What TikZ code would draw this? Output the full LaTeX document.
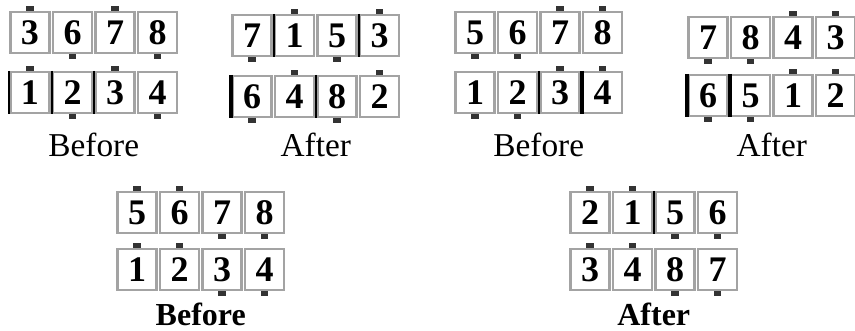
\documentclass[tikz,border=0pt]{standalone}
\usepackage{fontspec}
\setmainfont{Liberation Serif}
\usetikzlibrary{positioning}
\definecolor{cardedge}{gray}{0.64}
\definecolor{tabgray}{gray}{0.2}
\tikzset{
  card/.style={draw=cardedge, line width=1.8pt, fill=white, minimum width=29.5pt, minimum height=30.5pt, inner sep=0pt, font=\fontsize{27}{27}\selectfont\bfseries},
  tab/.style={fill=tabgray, minimum width=5.5pt, minimum height=4pt, inner sep=0pt},
  tab north/.style={yshift=1.8pt},
  tab south/.style={yshift=-1.8pt},
  leftbar/.style={black, line cap=butt},
  caption/.style={font=\fontsize{25}{25}\selectfont, anchor=base},
  boldcaption/.style={font=\fontsize{24}{24}\selectfont\bfseries, anchor=base}
}
% one row of cards: group, row, left x, top y, list of digit/tab side/bar
\newcommand\cardrow[5]{%
  \foreach \d/\t/\b [count=\i] in {#5}{
    \node[card] (#1-#2-\i) at ({#3+20+(\i-1)*42.5},{#4+20.5}) {\d};
    \node[tab, tab \t] (#1-#2-\i-tab) at (#1-#2-\i.\t) {};
    \ifnum\b>0 \draw[leftbar, line width=\b*1.6pt] (#1-#2-\i.north west) -- (#1-#2-\i.south west);\fi
  }}
\begin{document}
\begin{tikzpicture}[x=0.75pt,y=-0.75pt]
\useasboundingbox (0,0) rectangle (855,331);
% top row: before / after, twice
\cardrow{b1}{1}{10}{12}{3/north/0,6/south/0,7/north/0,8/south/0}
\cardrow{b1}{2}{10}{72}{1/north/1,2/south/1,3/north/1,4/south/0}
\node[caption] (b1-lab) at (93.75,157) {Before};
\cardrow{a1}{1}{232}{15}{7/south/0,1/north/1,5/south/0,3/north/1}
\cardrow{a1}{2}{232}{76}{6/south/2,4/north/0,8/south/1,2/north/0}
\node[caption] (a1-lab) at (315.75,157) {After};
\cardrow{b2}{1}{455}{12}{5/south/0,6/south/0,7/north/0,8/north/0}
\cardrow{b2}{2}{455}{72}{1/south/0,2/south/0,3/north/1,4/north/2}
\node[caption] (b2-lab) at (538.75,157) {Before};
\cardrow{a2}{1}{688}{17}{7/south/0,8/south/0,4/north/0,3/north/0}
\cardrow{a2}{2}{688}{75}{6/south/2,5/south/2,1/north/0,2/north/0}
\node[caption] (a2-lab) at (771.75,157) {After};
% bottom row
\cardrow{b3}{1}{117}{192}{5/north/0,6/north/0,7/south/0,8/south/0}
\cardrow{b3}{2}{117}{249}{1/north/0,2/north/0,3/south/0,4/south/0}
\node[boldcaption] (b3-lab) at (200.75,325) {Before};
\cardrow{a3}{1}{570}{192}{2/north/0,1/north/0,5/south/1,6/south/0}
\cardrow{a3}{2}{570}{249}{3/north/0,4/north/0,8/south/0,7/south/0}
\node[boldcaption] (a3-lab) at (653.75,325) {After};
\end{tikzpicture}
\end{document}
